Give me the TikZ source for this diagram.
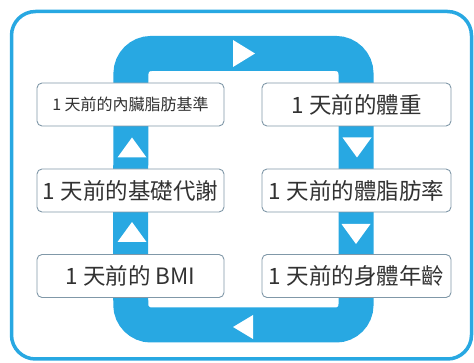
\documentclass[tikz,border=0pt]{standalone}
\usepackage{fontspec}
\setmainfont{Noto Sans CJK TC}
\usepackage{tikz}
\usetikzlibrary{backgrounds}
\definecolor{loopblue}{RGB}{40,168,226}
\definecolor{boxline}{RGB}{128,152,168}
\definecolor{txtgray}{RGB}{50,50,50}

\begin{document}
\begin{tikzpicture}[
  x=1pt, y=-1pt,
  frame/.style={draw=loopblue, line width=3.5pt, rounded corners=24pt},
  band/.style={draw=loopblue, line width=35pt, rounded corners=20pt},
  item/.style={
    draw=boxline, line width=0.9pt, fill=white,
    rounded corners=5pt, minimum height=43pt, inner sep=0pt,
    text=txtgray, font=\fontsize{22.5}{25}\selectfont
  },
  itemsmall/.style={item, font=\fontsize{16}{18}\selectfont},
  tri/.style={fill=white}
]
\useasboundingbox (0,0) rectangle (474,363);

% Rahmen
\draw[frame] (11.5,11.5) rectangle (471.5,359);

% linke Spalte --- von unten nach oben
\node[itemsmall, minimum width=187pt] (visc) at (130.5,104.5) {1 天前的內臟脂肪基準};
\node[item, minimum width=187pt] (bmr) at (130.5,190.5) {1 天前的基礎代謝};
\node[item, minimum width=187pt] (bmi) at (130.5,276) {1 天前的 BMI};

% rechte Spalte --- von oben nach unten
\node[item, minimum width=189pt] (weight) at (356.5,104.5) {1 天前的體重};
\node[item, minimum width=189pt] (fat) at (356.5,190.5) {1 天前的體脂肪率};
\node[item, minimum width=189pt] (age) at (356.5,276) {1 天前的身體年齡};

% Kreislauf hinter den Kästen
\coordinate (tl) at (131,53.5);
\coordinate (tr) at (356,53.5);
\coordinate (br) at (356,325);
\coordinate (bl) at (131,325);
\begin{scope}[on background layer]
\draw[band] (bmi.center) -- (tl) -- (tr) -- (br) -- (bl) -- cycle;
\end{scope}

% Richtungspfeile
\coordinate (aTop) at (244,53.5);
\coordinate (aBot) at (243,327);
\coordinate (aL1) at (132,147.5);
\coordinate (aL2) at (132,232);
\coordinate (aR1) at (357,147.5);
\coordinate (aR2) at (356,234);
\fill[tri] ([shift={(-11,-13.5)}]aTop) -- ([shift={(11,0)}]aTop) -- ([shift={(-11,13.5)}]aTop) -- cycle;
\fill[tri] ([shift={(10,-12)}]aBot) -- ([shift={(-10,0)}]aBot) -- ([shift={(10,12)}]aBot) -- cycle;
\fill[tri] ([shift={(-14.5,10)}]aL1) -- ([shift={(0,-10)}]aL1) -- ([shift={(14.5,10)}]aL1) -- cycle;
\fill[tri] ([shift={(-14.5,10)}]aL2) -- ([shift={(0,-10)}]aL2) -- ([shift={(14.5,10)}]aL2) -- cycle;
\fill[tri] ([shift={(-14.5,-10)}]aR1) -- ([shift={(0,10)}]aR1) -- ([shift={(14.5,-10)}]aR1) -- cycle;
\fill[tri] ([shift={(-14.5,-10)}]aR2) -- ([shift={(0,10)}]aR2) -- ([shift={(14.5,-10)}]aR2) -- cycle;
\end{tikzpicture}
\end{document}
